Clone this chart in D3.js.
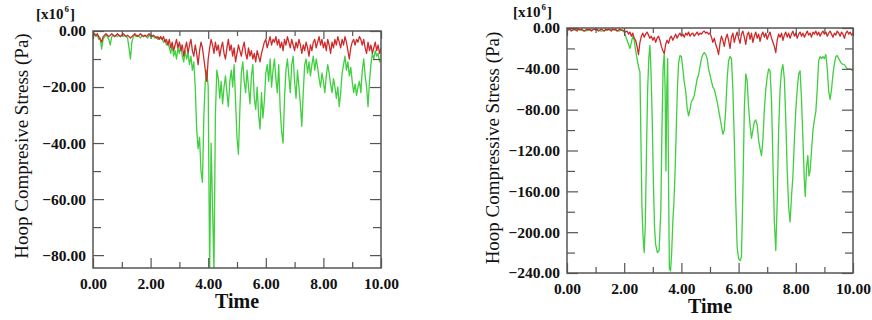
<!DOCTYPE html>
<html>
<head>
<meta charset="utf-8">
<script src="https://cdn.jsdelivr.net/npm/d3@7"></script>
<style>
  html, body { margin: 0; padding: 0; background: #fff; }
  svg { display: block; }
  text { font-family: "Liberation Serif", "Times New Roman", serif; fill: #111; }
</style>
</head>
<body>
<svg id="chart" width="872" height="320"></svg>
<script>
const svg = d3.select("#chart");

// sample step (time units) of the evenly sampled traces
const STEP = 0.05;

const xMajorTicks = [0, 2, 4, 6, 8, 10];
const xMinorTicks = [1, 3, 5, 7, 9];
const leftYMajor = [0, -20, -40, -60, -80];
const leftYMinor = [-10, -30, -50, -70];
const rightYMajor = [0, -40, -80, -120, -160, -200, -240];
const rightYMinor = [-20, -60, -100, -140, -180, -220];

// left panel, green trace (x10^6 Pa), t = 0 .. 10 every 0.05
const leftGreen = [
  -0.5, -1.5, -2, -1.5, -3, -2.5, -6.5, -3, -2, -1.5,
  -2, -3, -5, -2, -1.5, -2, -1.5, -2, -1.5, -2,
  -1.5, -2, -1.5, -2, -2.5, -6, -10, -4, -2, -1.5,
  -2, -1.5, -2, -2.5, -1.5, -2, -1.5, -2, -2.5, -1.5,
  -2, -1.5, -2, -2.5, -2, -3, -2.5,
  -2.5, -3, -4, -3, -5, -4, -6, -8, -5, -9,
  -7, -10, -6, -8, -5, -9, -11, -7, -10, -8,
  -12, -9, -14, -11, -20, -35, -42, -38, -50, -54,
  -30, -18, -14, -20, -86, -40, -62, -86, -30, -14,
  -17, -24, -18, -26, -20, -16, -22, -27, -18, -14,
  -20, -12, -25, -38, -44, -28, -15, -11, -18, -22,
  -14, -20, -26, -16, -12, -24, -28, -20, -30, -35,
  -22, -31, -25, -15, -12, -18, -10, -20, -14, -10,
  -17, -22, -12, -28, -36, -40, -24, -14, -10, -16,
  -22, -12, -9, -18, -24, -14, -20, -26, -34, -22,
  -12, -10, -15, -11, -16, -12, -9, -14, -10, -13,
  -17, -20, -15, -18, -22, -16, -12, -15, -19, -22,
  -17, -20, -24, -20, -27, -22, -15, -12, -9, -14,
  -11, -16, -13, -18, -22, -19, -23, -20, -18, -22,
  -14, -10, -16, -20, -27, -18, -12, -8, -10, -7,
  -9, -8, -11, -10
];

// left panel, red trace
const leftRed = [
  -0.5, -1, -1.5, -1, -2, -3, -4, -2, -1.5, -1,
  -1.5, -2, -1.5, -1, -1.5, -2, -1.5, -1, -1.5, -2,
  -1.5, -1, -1.5, -2, -1.5, -2, -2.5, -2, -1.5, -1,
  -1.5, -2, -1.5, -1, -1.5, -2, -1.5, -2, -1.5, -1,
  -1.5, -2, -1.5, -2, -2.5, -2, -3, -2, -3, -2,
  -4, -3, -5, -3, -6, -4, -7, -5, -3, -6,
  -4, -7, -5, -9, -6, -4, -8, -5, -3, -7,
  -9, -5, -8, -12, -7, -4, -6, -10, -14, -18,
  -10, -6, -3, -5, -8, -4, -7, -5, -9, -6,
  -4, -8, -10, -6, -3, -7, -5, -9, -6, -11,
  -8, -5, -7, -9, -6, -4, -8, -10, -6, -9,
  -7, -10, -8, -11, -7, -9, -11, -8, -6, -4,
  -3, -6, -4, -2, -5, -3, -4, -2, -5, -3,
  -6, -4, -7, -3, -5, -2, -4, -6, -3, -5,
  -7, -4, -6, -3, -5, -8, -5, -7, -4, -6,
  -9, -5, -7, -4, -3, -6, -4, -2, -5, -3,
  -6, -4, -7, -3, -5, -8, -4, -6, -3, -5,
  -2, -4, -6, -3, -5, -2, -4, -7, -10, -6,
  -4, -3, -5, -3, -4, -2, -3, -5, -3, -6,
  -8, -4, -7, -5, -8, -6, -4, -7, -5, -8,
  -6
];

// right panel, green trace as [time, value] pairs
const rightGreen = [
  [0, -1], [0.2, -2], [0.4, -1], [0.6, -3], [0.8, -2], [1.0, -1], [1.2, -3], [1.4, -2],
  [1.6, -1], [1.8, -3], [1.9, -2], [2.0, -4], [2.05, -8], [2.1, -12], [2.15, -16], [2.2, -20],
  [2.25, -14], [2.3, -8], [2.35, -12], [2.4, -22], [2.45, -30], [2.5, -38], [2.55, -43],
  [2.58, -100], [2.62, -175], [2.66, -205], [2.7, -220], [2.74, -190], [2.78, -120], [2.82, -60],
  [2.86, -30], [2.9, -17], [2.94, -45], [2.98, -90], [3.02, -150], [3.06, -195], [3.1, -212],
  [3.16, -220], [3.22, -218], [3.28, -180], [3.32, -100], [3.36, -40], [3.4, -25], [3.43, -60],
  [3.46, -140], [3.49, -60], [3.52, -30], [3.55, -150], [3.58, -236], [3.62, -238], [3.66, -220],
  [3.7, -190], [3.74, -170], [3.78, -140], [3.82, -100], [3.86, -60], [3.9, -35], [3.95, -27],
  [4.0, -28], [4.05, -40], [4.1, -53], [4.15, -62], [4.2, -78], [4.25, -86], [4.3, -80],
  [4.35, -72], [4.4, -70], [4.45, -66], [4.5, -58], [4.55, -50], [4.6, -46], [4.65, -38],
  [4.7, -30], [4.75, -26], [4.8, -24], [4.85, -26], [4.9, -30], [4.95, -40], [5.0, -46],
  [5.05, -52], [5.1, -58], [5.15, -60], [5.2, -66], [5.25, -72], [5.3, -80], [5.35, -88],
  [5.4, -96], [5.45, -104], [5.5, -100], [5.55, -80], [5.6, -50], [5.65, -32], [5.7, -28],
  [5.75, -30], [5.8, -60], [5.85, -110], [5.9, -170], [5.95, -215], [6.0, -226], [6.05, -228],
  [6.1, -224], [6.15, -160], [6.2, -80], [6.25, -45], [6.3, -52], [6.35, -78], [6.4, -95],
  [6.45, -108], [6.5, -100], [6.55, -92], [6.6, -90], [6.65, -95], [6.7, -110], [6.75, -118],
  [6.8, -125], [6.85, -110], [6.9, -80], [6.95, -60], [7.0, -48], [7.05, -40], [7.1, -42],
  [7.15, -70], [7.2, -130], [7.25, -190], [7.3, -218], [7.35, -170], [7.4, -100], [7.45, -60],
  [7.5, -42], [7.55, -36], [7.6, -50], [7.65, -90], [7.7, -140], [7.75, -175], [7.8, -190],
  [7.85, -165], [7.9, -145], [7.95, -110], [8.0, -80], [8.05, -60], [8.1, -45], [8.15, -42],
  [8.2, -70], [8.25, -110], [8.3, -150], [8.33, -165], [8.38, -135], [8.42, -125], [8.46, -145],
  [8.5, -140], [8.55, -120], [8.6, -100], [8.65, -90], [8.7, -82], [8.75, -60], [8.8, -32],
  [8.85, -28], [8.9, -30], [8.95, -28], [9.0, -30], [9.05, -26], [9.1, -40], [9.15, -62],
  [9.2, -70], [9.25, -60], [9.3, -45], [9.35, -35], [9.4, -28], [9.45, -27], [9.5, -30],
  [9.6, -35], [9.7, -36], [9.8, -40], [9.9, -40], [10.0, -42]
];

// right panel, red trace
const rightRed = [
  -1, -2, -1, -3, -2, -1, -2, -3, -1, -2,
  -1, -2, -3, -2, -1, -2, -1, -3, -2, -1,
  -2, -1, -3, -2, -1, -2, -3, -1, -2, -1,
  -2, -3, -1, -2, -1, -3, -2, -1, -2, -2,
  -3, -4, -3, -6, -4, -8, -5, -10, -12, -18,
  -26, -14, -8, -5, -9, -6, -4, -7, -10, -8,
  -12, -9, -14, -10, -8, -12, -18, -22, -25, -16,
  -12, -15, -10, -8, -12, -9, -6, -10, -7, -5,
  -8, -6, -9, -5, -7, -4, -8, -6, -5, -8,
  -6, -4, -7, -5, -6, -4, -3, -5, -4, -6,
  -5, -9, -14, -10, -16, -20, -26, -15, -8, -12,
  -18, -10, -6, -12, -20, -9, -5, -14, -8, -4,
  -10, -15, -6, -3, -9, -16, -7, -4, -11, -5,
  -14, -8, -4, -10, -6, -13, -7, -4, -9, -5,
  -11, -7, -4, -10, -14, -18, -24, -12, -6, -9,
  -5, -12, -7, -4, -9, -5, -10, -6, -3, -8,
  -5, -10, -6, -4, -8, -5, -9, -6, -3, -7,
  -5, -9, -4, -6, -3, -7, -4, -8, -5, -3,
  -6, -4, -8, -5, -3, -6, -9, -5, -7, -3,
  -5, -8, -4, -6, -10, -5, -3, -6, -4, -7,
  -5
];

const GREEN = "#3fcf3f";
const RED = "#cf2a2a";
const FRAME = "#555";

const panels = [
  {
    id: "left", box: { left: 93, right: 381, top: 31, bottom: 268 }, yMin: -84.6,
    yMajor: leftYMajor, yMinor: leftYMinor,
    green: leftGreen.map((v, i) => [i * STEP, v]),
    red: leftRed.map((v, i) => [i * STEP, v]),
    yLabel: "Hoop Compresive Stress (Pa)", yLabelX: 21, yLabelY: 146,
    timeX: 237, timeY: 308,
    mult: { x: 36, y: 19 }
  },
  {
    id: "right", box: { left: 567, right: 853, top: 28, bottom: 273 }, yMin: -240,
    yMajor: rightYMajor, yMinor: rightYMinor,
    green: rightGreen,
    red: rightRed.map((v, i) => [i * STEP, v]),
    yLabel: "Hoop Compressive Stress (Pa)", yLabelX: 492, yLabelY: 148,
    timeX: 710, timeY: 313,
    mult: { x: 513, y: 17 }
  }
];

const fmt = d3.format(".2f");

function styleAxis(sel) {
  sel.select(".domain").remove();
  sel.selectAll(".tick line").attr("stroke", FRAME).attr("stroke-width", 1.2);
  sel.selectAll(".tick text")
    .attr("fill", "#111")
    .style("font-family", "'Liberation Serif', 'Times New Roman', serif")
    .style("font-weight", "bold")
    .style("font-size", "15.5px");
}

function drawPanel(p) {
  const b = p.box;
  const x = d3.scaleLinear().domain([0, 10]).range([b.left, b.right]);
  const y = d3.scaleLinear().domain([p.yMin, 0]).range([b.bottom, b.top]);
  const g = svg.append("g").attr("id", "panel-" + p.id);

  g.append("clipPath").attr("id", "clip-" + p.id)
    .append("rect")
    .attr("x", b.left).attr("y", b.top)
    .attr("width", b.right - b.left).attr("height", b.bottom - b.top);

  const line = d3.line().x(d => x(d[0])).y(d => y(d[1]));
  const lines = g.append("g").attr("clip-path", `url(#clip-${p.id})`);
  lines.append("path").datum(p.green)
    .attr("d", line).attr("fill", "none")
    .attr("stroke", GREEN).attr("stroke-width", 1.3).attr("stroke-linejoin", "round");
  lines.append("path").datum(p.red)
    .attr("d", line).attr("fill", "none")
    .attr("stroke", RED).attr("stroke-width", 1.3).attr("stroke-linejoin", "round");

  // ticks point inward on all four sides
  g.append("g").attr("transform", `translate(0,${b.bottom})`)
    .call(d3.axisBottom(x).tickValues(xMajorTicks).tickSize(-10).tickPadding(10).tickFormat(fmt))
    .call(styleAxis);
  g.append("g").attr("transform", `translate(0,${b.bottom})`)
    .call(d3.axisBottom(x).tickValues(xMinorTicks).tickSize(-6).tickFormat(""))
    .call(styleAxis);
  g.append("g").attr("transform", `translate(0,${b.top})`)
    .call(d3.axisTop(x).tickValues(xMajorTicks).tickSize(-8).tickFormat(""))
    .call(styleAxis);
  g.append("g").attr("transform", `translate(0,${b.top})`)
    .call(d3.axisTop(x).tickValues(xMinorTicks).tickSize(-5).tickFormat(""))
    .call(styleAxis);

  g.append("g").attr("transform", `translate(${b.left},0)`)
    .call(d3.axisLeft(y).tickValues(p.yMajor).tickSize(-11).tickPadding(7).tickFormat(fmt))
    .call(styleAxis);
  g.append("g").attr("transform", `translate(${b.left},0)`)
    .call(d3.axisLeft(y).tickValues(p.yMinor).tickSize(-8).tickFormat(""))
    .call(styleAxis);
  g.append("g").attr("transform", `translate(${b.right},0)`)
    .call(d3.axisRight(y).tickValues(p.yMajor).tickSize(-11).tickFormat(""))
    .call(styleAxis);
  g.append("g").attr("transform", `translate(${b.right},0)`)
    .call(d3.axisRight(y).tickValues(p.yMinor).tickSize(-8).tickFormat(""))
    .call(styleAxis);

  g.append("rect")
    .attr("x", b.left).attr("y", b.top)
    .attr("width", b.right - b.left).attr("height", b.bottom - b.top)
    .attr("fill", "none").attr("stroke", FRAME).attr("stroke-width", 1.5);

  // exponent label, built from three pieces placed side by side
  const base = g.append("text")
    .attr("x", p.mult.x).attr("y", p.mult.y)
    .style("font-size", "15px").style("font-weight", "bold")
    .text("[x10");
  const w = base.node().getComputedTextLength();
  const sup = g.append("text")
    .attr("x", p.mult.x + w + 1).attr("y", p.mult.y - 7)
    .style("font-size", "9px").style("font-weight", "bold")
    .text("6");
  const ws = sup.node().getComputedTextLength();
  g.append("text")
    .attr("x", p.mult.x + w + ws + 2).attr("y", p.mult.y)
    .style("font-size", "15px").style("font-weight", "bold")
    .text("]");

  g.append("text")
    .attr("transform", `translate(${p.yLabelX},${p.yLabelY}) rotate(-90)`)
    .attr("text-anchor", "middle").attr("dy", "0.35em")
    .style("font-size", "19px")
    .text(p.yLabel);

  g.append("text")
    .attr("x", p.timeX).attr("y", p.timeY)
    .attr("text-anchor", "middle")
    .style("font-size", "20px").style("font-weight", "bold")
    .text("Time");
}

panels.forEach(drawPanel);
</script>
</body>
</html>
